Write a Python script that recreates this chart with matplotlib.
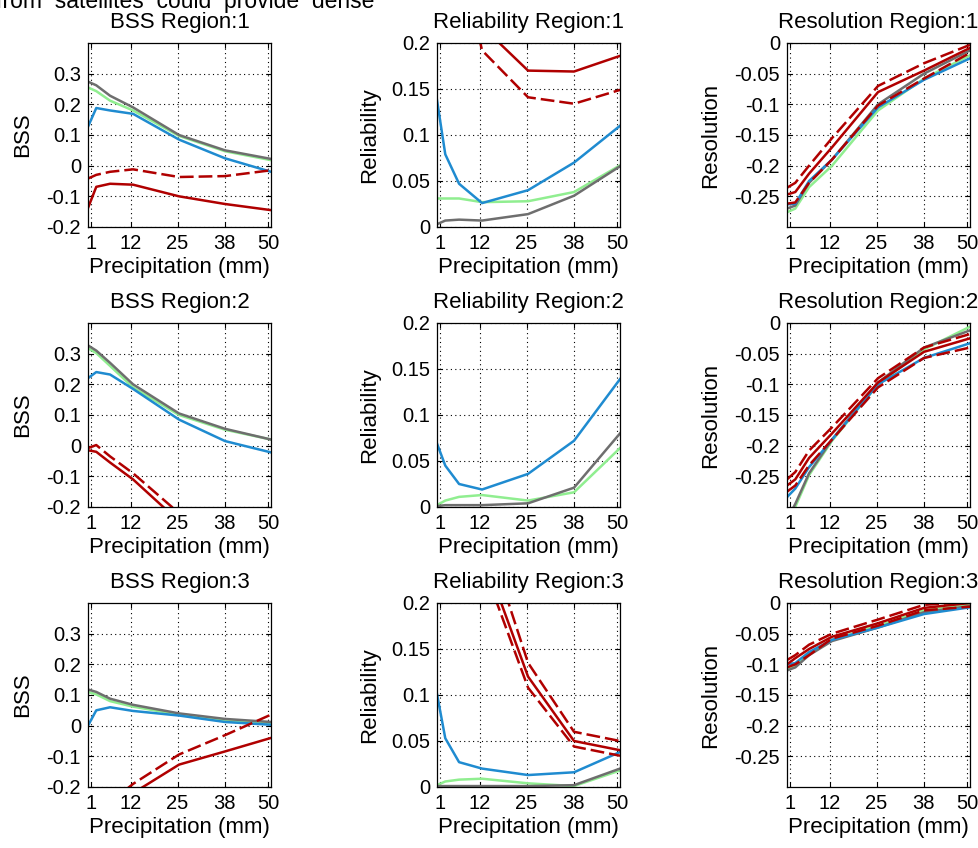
import numpy as np
import matplotlib
matplotlib.use('Agg')
import matplotlib.pyplot as plt

plt.rcParams['font.family'] = ['Liberation Sans', 'DejaVu Sans']
plt.rcParams['axes.unicode_minus'] = False

nan = np.nan

# thresholds in mm (0.01, 0.1, 0.25, 0.5, 1, 1.5, 2 inch)
precip = [0.254, 2.54, 6.35, 12.7, 25.4, 38.1, 50.8]
xtick_vals = [1, 12, 25, 38, 50]
region_ids = [1, 2, 3]

#### BSS ####
bss_gray = [[0.274, 0.262, 0.228, 0.19, 0.1, 0.05, 0.022],
            [0.327, 0.31, 0.27, 0.2, 0.105, 0.055, 0.02],
            [0.118, 0.11, 0.088, 0.068, 0.04, 0.022, 0.012]]
bss_green = [[0.255, 0.243, 0.212, 0.18, 0.097, 0.047, 0.018],
             [0.318, 0.302, 0.26, 0.19, 0.1, 0.052, 0.02],
             [0.11, 0.102, 0.08, 0.062, 0.036, 0.017, 0.008]]
bss_blue = [[0.127, 0.188, 0.18, 0.169, 0.085, 0.024, -0.02],
            [0.22, 0.24, 0.232, 0.185, 0.085, 0.015, -0.022],
            [0.0, 0.05, 0.06, 0.048, 0.033, 0.012, 0.003]]
bss_red = [[-0.138, -0.069, -0.059, -0.062, -0.1, -0.125, -0.145],
           [-0.015, -0.02, -0.055, -0.11, -0.247, nan, nan],
           [nan, nan, nan, -0.22, -0.127, -0.084, -0.04]]
bss_dash = [[-0.042, -0.03, -0.02, -0.012, -0.037, -0.034, -0.015],
            [-0.008, 0.002, -0.035, -0.09, -0.22, nan, nan],
            [nan, nan, -0.25, -0.19, -0.094, -0.031, 0.036]]
bss_dash2 = [[nan] * 7, [nan] * 7, [nan] * 7]

#### Reliability ####
rel_gray = [[0.003, 0.007, 0.008, 0.007, 0.014, 0.034, 0.066],
            [0.001, 0.002, 0.002, 0.002, 0.004, 0.021, 0.08],
            [0.001, 0.001, 0.001, 0.001, 0.001, 0.002, 0.02]]
rel_green = [[0.031, 0.031, 0.031, 0.027, 0.028, 0.038, 0.067],
             [0.002, 0.007, 0.011, 0.013, 0.007, 0.016, 0.064],
             [0.002, 0.006, 0.008, 0.009, 0.004, 0.001, 0.018]]
rel_blue = [[0.138, 0.079, 0.047, 0.026, 0.04, 0.07, 0.11],
            [0.069, 0.045, 0.025, 0.019, 0.036, 0.072, 0.139],
            [0.101, 0.053, 0.027, 0.02, 0.013, 0.016, 0.038]]
rel_red = [[nan, nan, nan, 0.218, 0.17, 0.169, 0.186],
           [nan] * 7,
           [nan, nan, nan, 0.257, 0.12, 0.05, 0.04]]
rel_dash = [[nan, nan, 0.3, 0.192, 0.141, 0.134, 0.149],
            [nan] * 7,
            [nan, nan, nan, 0.288, 0.135, 0.06, 0.05]]
rel_dash2 = [[nan] * 7,
             [nan] * 7,
             [nan, nan, nan, 0.244, 0.108, 0.044, 0.034]]

#### Resolution ####
res_gray = [[-0.27, -0.265, -0.228, -0.19, -0.1, -0.05, -0.012],
            [-0.32, -0.295, -0.245, -0.19, -0.097, -0.04, -0.012],
            [-0.11, -0.105, -0.085, -0.062, -0.04, -0.015, -0.005]]
res_green = [[-0.276, -0.27, -0.235, -0.2, -0.11, -0.058, -0.02],
             [-0.335, -0.3, -0.248, -0.192, -0.1, -0.043, -0.006],
             [-0.108, -0.102, -0.083, -0.06, -0.037, -0.012, -0.003]]
res_blue = [[-0.263, -0.262, -0.225, -0.19, -0.105, -0.06, -0.025],
            [-0.284, -0.27, -0.235, -0.19, -0.1, -0.057, -0.033],
            [-0.1, -0.098, -0.08, -0.06, -0.04, -0.018, -0.007]]
res_red = [[-0.247, -0.243, -0.213, -0.17, -0.08, -0.045, -0.008],
           [-0.265, -0.255, -0.22, -0.18, -0.097, -0.047, -0.025],
           [-0.1, -0.09, -0.075, -0.055, -0.033, -0.008, 0.0]]
res_dash = [[-0.236, -0.228, -0.2, -0.155, -0.07, -0.033, -0.003],
            [-0.255, -0.243, -0.208, -0.17, -0.09, -0.04, -0.018],
            [-0.093, -0.085, -0.068, -0.05, -0.027, -0.003, 0.002]]
res_dash2 = [[-0.262, -0.26, -0.228, -0.19, -0.102, -0.058, -0.016],
             [-0.275, -0.265, -0.232, -0.19, -0.105, -0.057, -0.04],
             [-0.105, -0.1, -0.085, -0.058, -0.037, -0.012, -0.006]]

bss_ticks = [-0.2, -0.1, 0, 0.1, 0.2, 0.3]
rel_ticks = [0, 0.05, 0.1, 0.15, 0.2]
res_ticks = [-0.25, -0.2, -0.15, -0.1, -0.05, 0]

metrics = [
    ('BSS', (-0.2, 0.4), bss_ticks, -0.3,
     bss_gray, bss_green, bss_blue, bss_red, bss_dash, bss_dash2),
    ('Reliability', (0, 0.2), rel_ticks, -0.31,
     rel_gray, rel_green, rel_blue, rel_red, rel_dash, rel_dash2),
    ('Resolution', (-0.3, 0), res_ticks, -0.36,
     res_gray, res_green, res_blue, res_red, res_dash, res_dash2),
]

c_gray = '#6e6e6e'
c_green = '#90ee90'
c_blue = '#1f8bd0'
c_red = '#b00000'

W, H = 979, 848
fig = plt.figure(figsize=(W / 100, H / 100), dpi=100)

# 본문에서 잘린 윗줄 텍스트
fig.text(-0.004, 1 - 8 / H, 'from  satellites  could  provide  dense',
         fontsize=16.5, va='baseline', ha='left')

col_left = [88, 437, 787]
row_top = [43, 323, 603]
ax_w, ax_h = 183, 184

for r in range(3):
    for c, (name, ylim, yticks, ylab_x, gray, green, blue, red, dash, dash2) in enumerate(metrics):
        ax = fig.add_axes([col_left[c] / W, 1 - (row_top[r] + ax_h) / H, ax_w / W, ax_h / H])
        lw = 1.8
        ax.plot(precip, green[r], color=c_green, lw=lw)
        ax.plot(precip, gray[r], color=c_gray, lw=lw)
        ax.plot(precip, blue[r], color=c_blue, lw=lw)
        ax.plot(precip, dash[r], color=c_red, lw=lw, linestyle=(0, (5.5, 2)))
        ax.plot(precip, dash2[r], color=c_red, lw=lw, linestyle=(0, (5.5, 2)))
        ax.plot(precip, red[r], color=c_red, lw=lw)

        ax.set_xlim(precip[0], precip[-1])
        ax.set_ylim(*ylim)
        ax.set_xticks(xtick_vals)
        ax.set_xticklabels([str(v) for v in xtick_vals])
        ax.set_yticks(yticks)
        ax.set_yticklabels(['%g' % v for v in yticks])
        ax.grid(True, color='black', linestyle=(0, (1, 3)), lw=0.8)
        ax.tick_params(direction='in', length=3.5, width=0.8, top=True, right=True,
                       labelsize=14.5, pad=5)
        for s in ax.spines.values():
            s.set_linewidth(0.9)

        ax.set_title(f'{name} Region:{region_ids[r]}', fontsize=16, pad=11)
        ax.set_xlabel('Precipitation (mm)', fontsize=16, labelpad=3)
        ax.set_ylabel(name, fontsize=16)
        ax.yaxis.set_label_coords(ylab_x, 0.5)

fig.savefig('out.png', dpi=100)
